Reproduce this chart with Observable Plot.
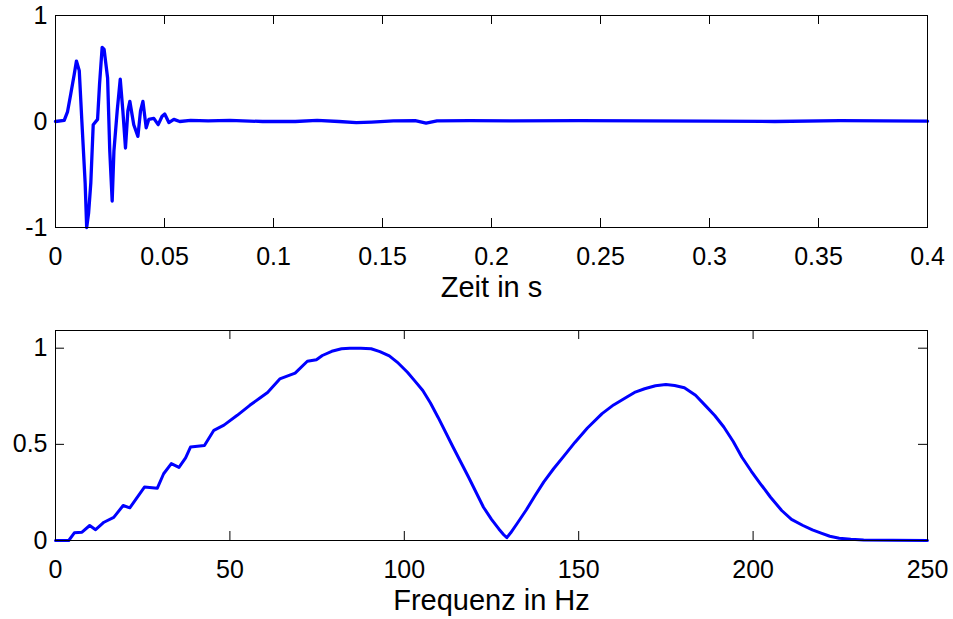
<!DOCTYPE html>
<html><head><meta charset="utf-8">
<script src="https://cdn.jsdelivr.net/npm/d3@7"></script>
<script src="https://cdn.jsdelivr.net/npm/@observablehq/plot@0.6"></script>
<style>
body{margin:0;background:#fff;}
#chart{width:953px;height:619px;overflow:hidden;}
#chart svg{display:block;}
</style></head><body><div id="chart"></div>
<script>
// ---- Top panel: impulse response (time domain) ----
const timeS = [0, 0.004, 0.0055, 0.007, 0.0086, 0.0096, 0.0109, 0.0121, 0.0136, 0.0143, 0.0152, 0.0162, 0.0173, 0.0193, 0.0202, 0.0214, 0.0223, 0.0239, 0.0249, 0.0260, 0.0268, 0.0283, 0.0297, 0.0309, 0.0321, 0.0332, 0.0341, 0.0359, 0.0378, 0.0390, 0.0401, 0.0416, 0.0428, 0.0451, 0.0471, 0.0489, 0.0501, 0.052, 0.0543, 0.057, 0.062, 0.07, 0.08, 0.095, 0.11, 0.12, 0.13, 0.138, 0.145, 0.155, 0.165, 0.17, 0.175, 0.19, 0.21, 0.24, 0.27, 0.3, 0.33, 0.36, 0.38, 0.4];
const amplitude = [0, 0.01, 0.09, 0.26, 0.445, 0.57, 0.48, 0, -0.58, -1.0, -0.86, -0.58, -0.03, 0.02, 0.35, 0.70, 0.68, 0.41, -0.28, -0.75, -0.28, 0.10, 0.40, 0.10, -0.25, 0.10, 0.19, -0.03, -0.14, 0.10, 0.19, -0.06, 0.02, 0.03, -0.03, 0.05, 0.07, -0.01, 0.02, 0.0, 0.01, 0.005, 0.01, 0.0, 0.0, 0.01, 0.0, -0.01, -0.005, 0.005, 0.008, -0.015, 0.005, 0.008, 0.005, 0.008, 0.005, 0.003, 0.0, 0.008, 0.006, 0.003];
const timeTicks = [0, 0.05, 0.1, 0.15, 0.2, 0.25, 0.3, 0.35, 0.4];
const timeTickLabels = ["0", "0.05", "0.1", "0.15", "0.2", "0.25", "0.3", "0.35", "0.4"];
const ampTicks = [-1, 0, 1];
const ampTickLabels = ["-1", "0", "1"];
const timeLabel = "Zeit in s";

// ---- Bottom panel: magnitude spectrum ----
const freqHz = [0, 3.8, 5.4, 7.6, 9.8, 11.5, 13.9, 16.7, 19.4, 21.3, 25.5, 29.2, 31, 33.2, 35.4, 37.3, 38.7, 42.7, 45.4, 48.3, 52.1, 55.7, 58.5, 60.8, 64.3, 68.7, 72.2, 74.8, 76.5, 79.2, 82, 84.4, 87.5, 90.5, 93, 95.7, 98.3, 100.9, 103, 105.3, 107.5, 109.7, 114, 118.4, 122.7, 125, 127.1, 128.5, 129.4, 130.5, 132.3, 135, 137.5, 140, 142.8, 145.8, 148.9, 152.5, 156.7, 160, 163.7, 166, 168.9, 172, 175, 177.5, 180.3, 183.5, 186.4, 189, 191.6, 194.3, 196.8, 199.5, 202.1, 205, 208.2, 211, 214.3, 217, 219.5, 222, 224.7, 228, 231.7, 240, 250];
const magnitude = [0, 0, 0.04, 0.043, 0.078, 0.056, 0.095, 0.12, 0.182, 0.17, 0.278, 0.272, 0.347, 0.40, 0.38, 0.43, 0.486, 0.494, 0.573, 0.60, 0.651, 0.703, 0.74, 0.77, 0.84, 0.87, 0.932, 0.94, 0.962, 0.984, 0.997, 1.0, 1.0, 0.997, 0.982, 0.96, 0.922, 0.875, 0.83, 0.78, 0.715, 0.64, 0.485, 0.33, 0.173, 0.11, 0.06, 0.03, 0.015, 0.04, 0.087, 0.16, 0.234, 0.305, 0.373, 0.44, 0.51, 0.585, 0.66, 0.705, 0.745, 0.77, 0.789, 0.805, 0.811, 0.806, 0.794, 0.755, 0.70, 0.65, 0.59, 0.515, 0.433, 0.36, 0.295, 0.225, 0.156, 0.11, 0.078, 0.055, 0.038, 0.022, 0.012, 0.006, 0.003, 0.001, 0];
const freqTicks = [0, 50, 100, 150, 200, 250];
const freqTickLabels = ["0", "50", "100", "150", "200", "250"];
const magTicks = [0, 0.5, 1];
const magTickLabels = ["0", "0.5", "1"];
const freqLabel = "Frequenz in Hz";

const W = 953, ML = 55, MR = 26, TICK = 9;

function panel({xs, ys, xDomain, yDomain, xTicks, xLabels, yTicks, yLabels, label, height, marginTop, marginBottom, lineWidth}) {
  const data = xs.map((x, i) => ({x, y: ys[i]}));
  const innerW = W - ML - MR, innerH = height - marginTop - marginBottom;
  const tx = TICK * (xDomain[1] - xDomain[0]) / innerW;
  const ty = TICK * (yDomain[1] - yDomain[0]) / innerH;
  const xMap = new Map(xTicks.map((t, i) => [t, xLabels[i]]));
  const yMap = new Map(yTicks.map((t, i) => [t, yLabels[i]]));
  return Plot.plot({
    width: W, height, marginLeft: ML, marginRight: MR, marginTop, marginBottom,
    style: {fontFamily: "'Liberation Sans', Arial, sans-serif", color: "#000", background: "#fff", overflow: "visible"},
    x: {domain: xDomain},
    y: {domain: yDomain},
    marks: [
      Plot.ruleX(xTicks, {x: d => d, y1: yDomain[0], y2: yDomain[0] + ty, stroke: "#000"}),
      Plot.ruleX(xTicks, {x: d => d, y1: yDomain[1], y2: yDomain[1] - ty, stroke: "#000"}),
      Plot.ruleY(yTicks, {y: d => d, x1: xDomain[0], x2: xDomain[0] + tx, stroke: "#000"}),
      Plot.ruleY(yTicks, {y: d => d, x1: xDomain[1], x2: xDomain[1] - tx, stroke: "#000"}),
      Plot.line(data, {x: "x", y: "y", stroke: "#0000ff", strokeWidth: lineWidth, strokeLinejoin: "round"}),
      Plot.frame({stroke: "#000", strokeWidth: 1}),
      Plot.axisX(xTicks, {tickSize: 0, tickPadding: 20, fontSize: 25, tickFormat: d => xMap.get(d), label: null}),
      Plot.axisY(yTicks, {tickSize: 0, tickPadding: 8, fontSize: 25, tickFormat: d => yMap.get(d), label: null}),
      Plot.text([label], {frameAnchor: "bottom", dy: 49, lineAnchor: "top", fontSize: 29, fill: "#000"})
    ]
  });
}

const chart = document.getElementById("chart");
chart.appendChild(panel({
  xs: timeS, ys: amplitude, xDomain: [0, 0.4], yDomain: [-1, 1],
  xTicks: timeTicks, xLabels: timeTickLabels, yTicks: ampTicks, yLabels: ampTickLabels,
  label: timeLabel, height: 310, marginTop: 15, marginBottom: 83, lineWidth: 3.3
}));
chart.appendChild(panel({
  xs: freqHz, ys: magnitude, xDomain: [0, 250], yDomain: [0, 1.092],
  xTicks: freqTicks, xLabels: freqTickLabels, yTicks: magTicks, yLabels: magTickLabels,
  label: freqLabel, height: 309, marginTop: 20, marginBottom: 79, lineWidth: 3
}));
</script></body></html>
